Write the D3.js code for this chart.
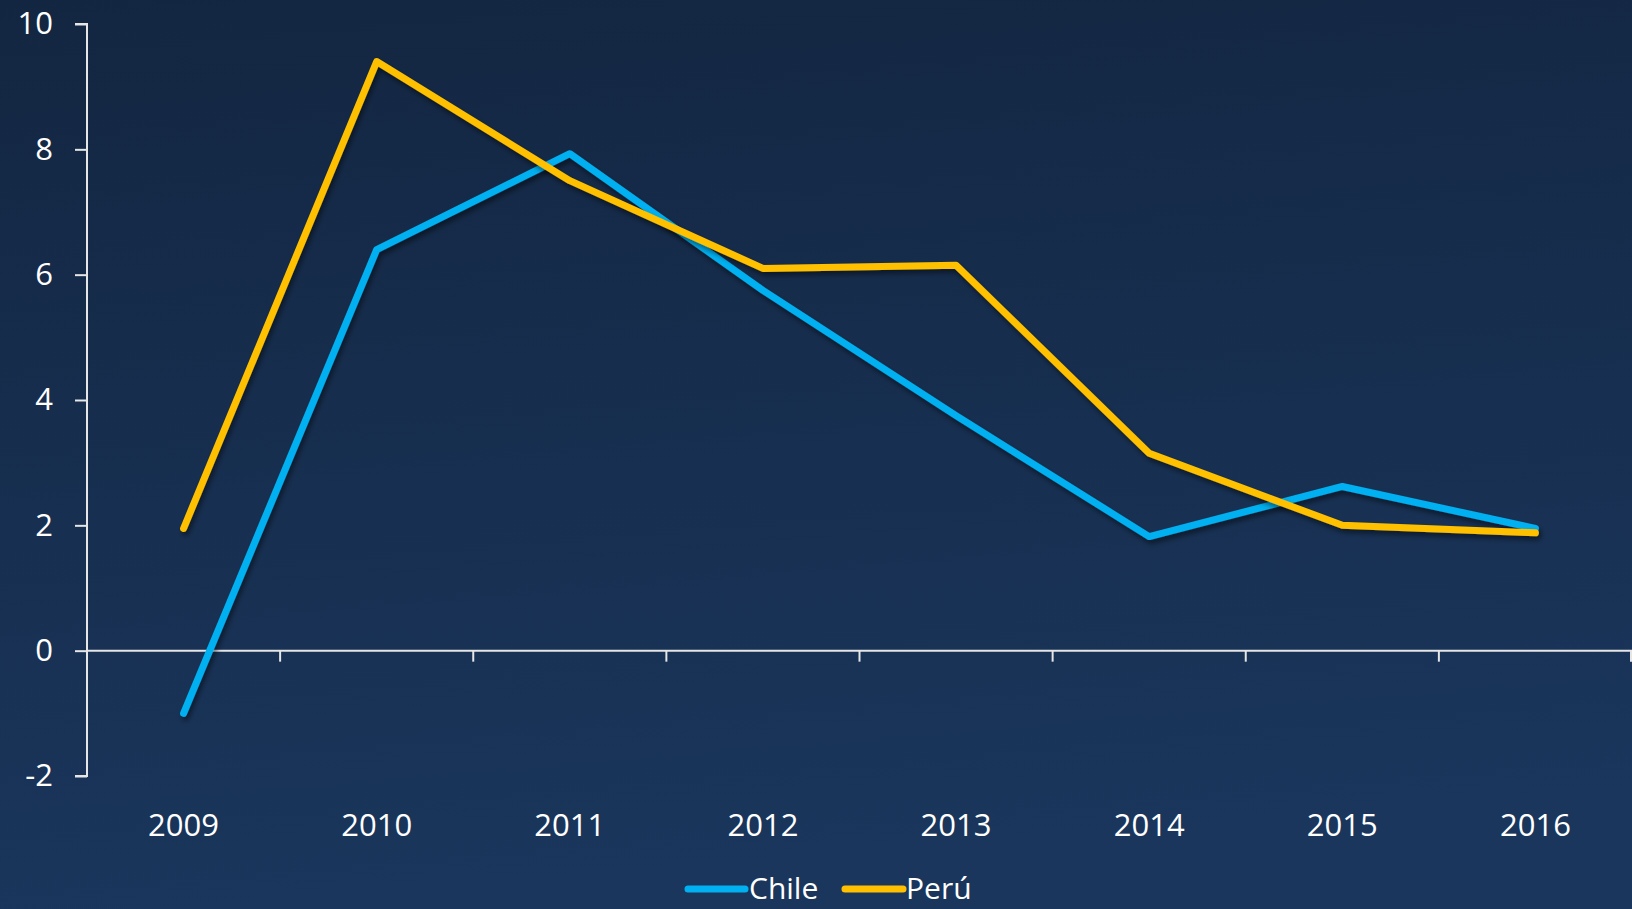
<!DOCTYPE html>
<html>
<head>
<meta charset="utf-8">
<script src="https://cdn.jsdelivr.net/npm/d3@7"></script>
<style>
html,body{margin:0;padding:0;background:#16304f;}
svg{display:block;}
text{font-family:"Open Sans",Lato,sans-serif;fill:#ffffff;}
</style>
</head>
<body>
<svg id="chart" width="1632" height="909"></svg>
<script>
const years = ["2009","2010","2011","2012","2013","2014","2015","2016"];
const chile = [-1.0, 6.4, 7.93, 5.75, 3.75, 1.82, 2.62, 1.95];
const peru = [1.95, 9.4, 7.5, 6.1, 6.15, 3.15, 2.0, 1.88];
const yTicks = [-2, 0, 2, 4, 6, 8, 10];
const seriesNames = ["Chile", "Perú"];
const seriesColors = ["#00b0f0", "#ffc000"];

const W = 1632, H = 909;
const svg = d3.select("#chart");
const defs = svg.append("defs");
const grad = defs.append("linearGradient").attr("id","bg")
  .attr("x1","0").attr("y1","0").attr("x2","0.15").attr("y2","1");
grad.append("stop").attr("offset","0").attr("stop-color","#132641");
grad.append("stop").attr("offset","1").attr("stop-color","#1a365c");
const sh = defs.append("filter").attr("id","shadow")
  .attr("x","-10%").attr("y","-10%").attr("width","120%").attr("height","120%");
sh.append("feDropShadow").attr("dx",2).attr("dy",4).attr("stdDeviation",2.5)
  .attr("flood-color","#000").attr("flood-opacity",0.45);

svg.append("rect").attr("width",W).attr("height",H).attr("fill","url(#bg)");

const x = d3.scaleBand().domain(years).range([87, 1632]).padding(0);
const y = d3.scaleLinear().domain([-2, 10]).range([776, 24]);

// y axis
const yAxis = d3.axisLeft(y).tickValues(yTicks).tickSize(12).tickPadding(22).tickFormat(d => String(d));
const gy = svg.append("g").attr("transform","translate(87,0)").call(yAxis);
gy.selectAll("path,line").attr("stroke","#e6e6e6").attr("stroke-width",2);
gy.select(".domain").attr("d","M-12,"+y(10)+"H0V"+y(-2)+"H-12");
gy.selectAll("text").attr("font-size",31).style("font-family","'Open Sans',Lato,sans-serif").attr("fill","#fff");

// x axis at zero
const gx = svg.append("g").attr("transform","translate(0,"+y(0)+")");
gx.append("line").attr("x1",87).attr("x2",1632).attr("y1",0).attr("y2",0)
  .attr("stroke","#e6e6e6").attr("stroke-width",2);
const bounds = years.map((d,i)=>x(d)).slice(1).concat([x(years[years.length-1])+x.bandwidth()-1]);
gx.selectAll("line.tk").data(bounds).join("line").attr("class","tk")
  .attr("x1",d=>d).attr("x2",d=>d).attr("y1",0).attr("y2",11)
  .attr("stroke","#e6e6e6").attr("stroke-width",2);

// x labels
svg.append("g").selectAll("text").data(years).join("text")
  .attr("x",d=>x(d)+x.bandwidth()/2).attr("y",836)
  .attr("text-anchor","middle").attr("font-size",31).text(d=>d);

// lines
const line = d3.line().x((d,i)=>x(years[i])+x.bandwidth()/2).y(d=>y(d));
[chile, peru].forEach((s,k)=>{
  svg.append("path").datum(s).attr("d",line).attr("fill","none")
    .attr("stroke",seriesColors[k]).attr("stroke-width",7)
    .attr("stroke-linejoin","round").attr("stroke-linecap","round")
    .attr("filter","url(#shadow)");
});

// legend
const legend = [{x1:688,x2:745,tx:749},{x1:845,x2:903,tx:906}];
legend.forEach((l,k)=>{
  svg.append("line").attr("x1",l.x1).attr("x2",l.x2).attr("y1",889).attr("y2",889)
    .attr("stroke",seriesColors[k]).attr("stroke-width",7).attr("stroke-linecap","round");
  svg.append("text").attr("x",l.tx).attr("y",899).attr("font-size",30).text(seriesNames[k]);
});
</script>
</body>
</html>
